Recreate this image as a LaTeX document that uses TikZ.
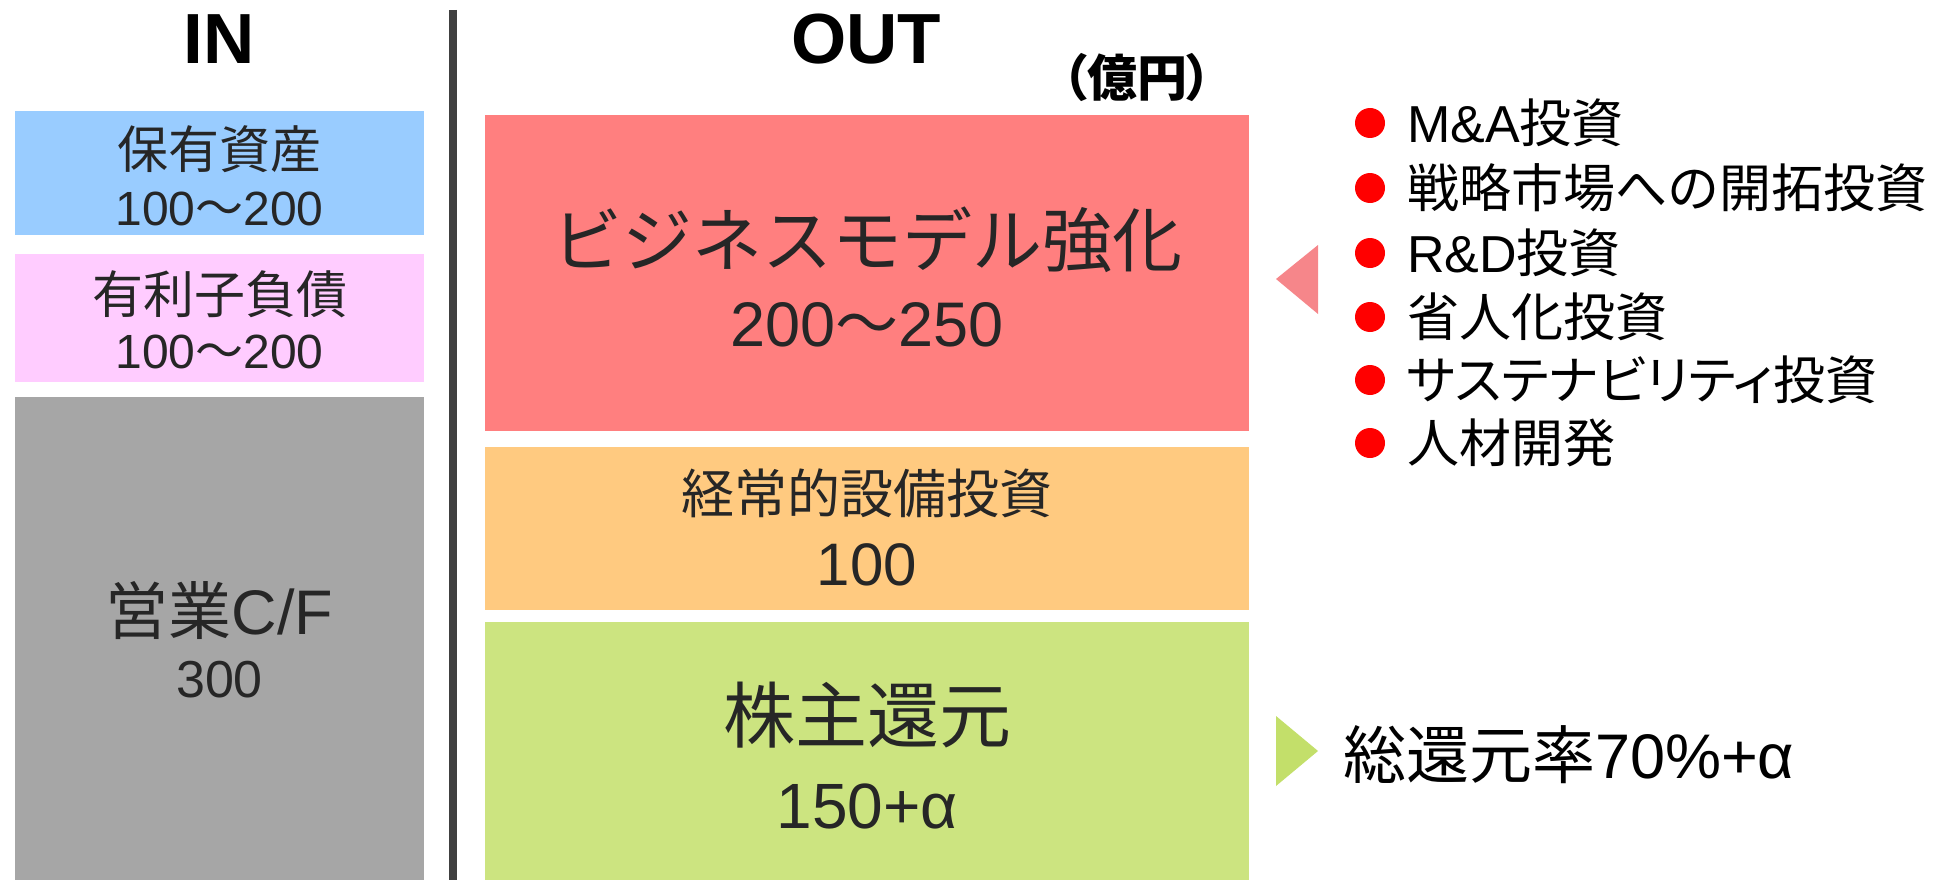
\documentclass[tikz,border=0pt]{standalone}
\usepackage{fontspec}
\setmainfont{Liberation Sans}
\newfontfamily\cjk{Noto Sans CJK JP}
\newfontfamily\cjkp[RawFeature=+palt]{Noto Sans CJK JP}
\newcommand{\fsz}[1]{\fontsize{#1}{#1}\selectfont}
\definecolor{cblue}{HTML}{99CCFF}
\definecolor{cpink}{HTML}{FFCCFF}
\definecolor{cgray}{HTML}{A6A6A6}
\definecolor{cred}{HTML}{FF7F7F}
\definecolor{corange}{HTML}{FFCA80}
\definecolor{cgreen}{HTML}{CCE480}
\definecolor{ctrired}{HTML}{F6868A}
\definecolor{ctrigreen}{HTML}{C3DF6A}
\definecolor{ctext}{HTML}{262626}
\definecolor{cline}{HTML}{404040}
\definecolor{cdot}{HTML}{FF0000}
\begin{document}
\begin{tikzpicture}[x=1pt,y=-1pt,
  box/.style={draw=none, inner sep=0pt, outer sep=0pt},
  txt/.style={inner sep=0pt, outer sep=0pt, text=ctext},
  ttl/.style={inner sep=0pt, outer sep=0pt, text=black, font=\bfseries\fsz{71}},
  dot/.style={circle, fill=cdot, draw=none, minimum size=30pt, inner sep=0pt},
  item/.style={anchor=west, inner sep=0pt, outer sep=0pt, text=black, font=\fsz{52}}]
\useasboundingbox (0,0) rectangle (1959,880);

% titles
\node[ttl] (tin) at (219,39) {IN};
\node[ttl] (tout) at (866,39) {OUT};
\node[inner sep=0pt, text=black, font=\cjkp\bfseries\fsz{50}] (unit) at (1137,78) {（億円）};

% divider
\coordinate (vtop) at (453,10);
\coordinate (vbot) at (453,880);
\draw[line width=8pt, cline] (vtop) -- (vbot);

% IN boxes
\node[box, fill=cblue, minimum width=409pt, minimum height=124pt] (bblue) at (219.5,173) {};
\node[box, fill=cpink, minimum width=409pt, minimum height=128pt] (bpink) at (219.5,318) {};
\node[box, fill=cgray, minimum width=409pt, minimum height=483pt] (bgray) at (219.5,638.5) {};

\node[txt, font=\cjk\fsz{51}] (blueA) at (219.5,149) {保有資産};
\node[txt, font=\fsz{48}] (blueB) at (219.5,209) {100{\cjk ～}200};
\node[txt, font=\cjk\fsz{51}] (pinkA) at (219.5,294) {有利子負債};
\node[txt, font=\fsz{48}] (pinkB) at (219.5,352) {100{\cjk ～}200};
\node[txt, font=\fsz{63}] (grayA) at (219.5,611) {{\cjk 営業}C/F};
\node[txt, font=\fsz{52}] (grayB) at (219.5,680) {300};

% OUT boxes
\node[box, fill=cred, minimum width=764pt, minimum height=316pt] (bred) at (867,273) {};
\node[box, fill=corange, minimum width=764pt, minimum height=163pt] (borange) at (867,528.5) {};
\node[box, fill=cgreen, minimum width=764pt, minimum height=258pt] (bgreen) at (867,751) {};

\node[txt, font=\cjk\fsz{70}] (redA) at (867,240) {ビジネスモデル強化};
\node[txt, font=\fsz{63}] (redB) at (867,325) {200{\cjk ～}250};
\node[txt, font=\cjk\fsz{53}] (orA) at (867,493) {経常的設備投資};
\node[txt, font=\fsz{60}] (orB) at (867,565) {100};
\node[txt, font=\cjk\fsz{72}] (grA) at (867,715) {株主還元};
\node[txt, font=\fsz{64}] (grB) at (867,806) {150+α};

% pointers
\fill[ctrired] (1276,279) -- (1318,245) -- (1318,314) -- cycle;
\fill[ctrigreen] (1276,716) -- (1318,751) -- (1276,786) -- cycle;

% bullet list
\node[dot] (d1) at (1370,123) {};
\node[dot] (d2) at (1370,188) {};
\node[dot] (d3) at (1370,253) {};
\node[dot] (d4) at (1370,317) {};
\node[dot] (d5) at (1370,380) {};
\node[dot] (d6) at (1370,443) {};
\node[item] (i1) at (1407,123) {M\&A{\cjk 投資}};
\node[item] (i2) at (1407,188) {\cjk 戦略市場への開拓投資};
\node[item] (i3) at (1407,253) {R\&D{\cjk 投資}};
\node[item] (i4) at (1407,317) {\cjk 省人化投資};
\node[item] (i5) at (1407,380) {\cjkp サステナビリティ{\cjk 投資}};
\node[item] (i6) at (1407,443) {\cjk 人材開発};

\node[item, font=\fsz{63}] (ret) at (1343,755) {{\cjk 総還元率}70\%+α};
\end{tikzpicture}
\end{document}
